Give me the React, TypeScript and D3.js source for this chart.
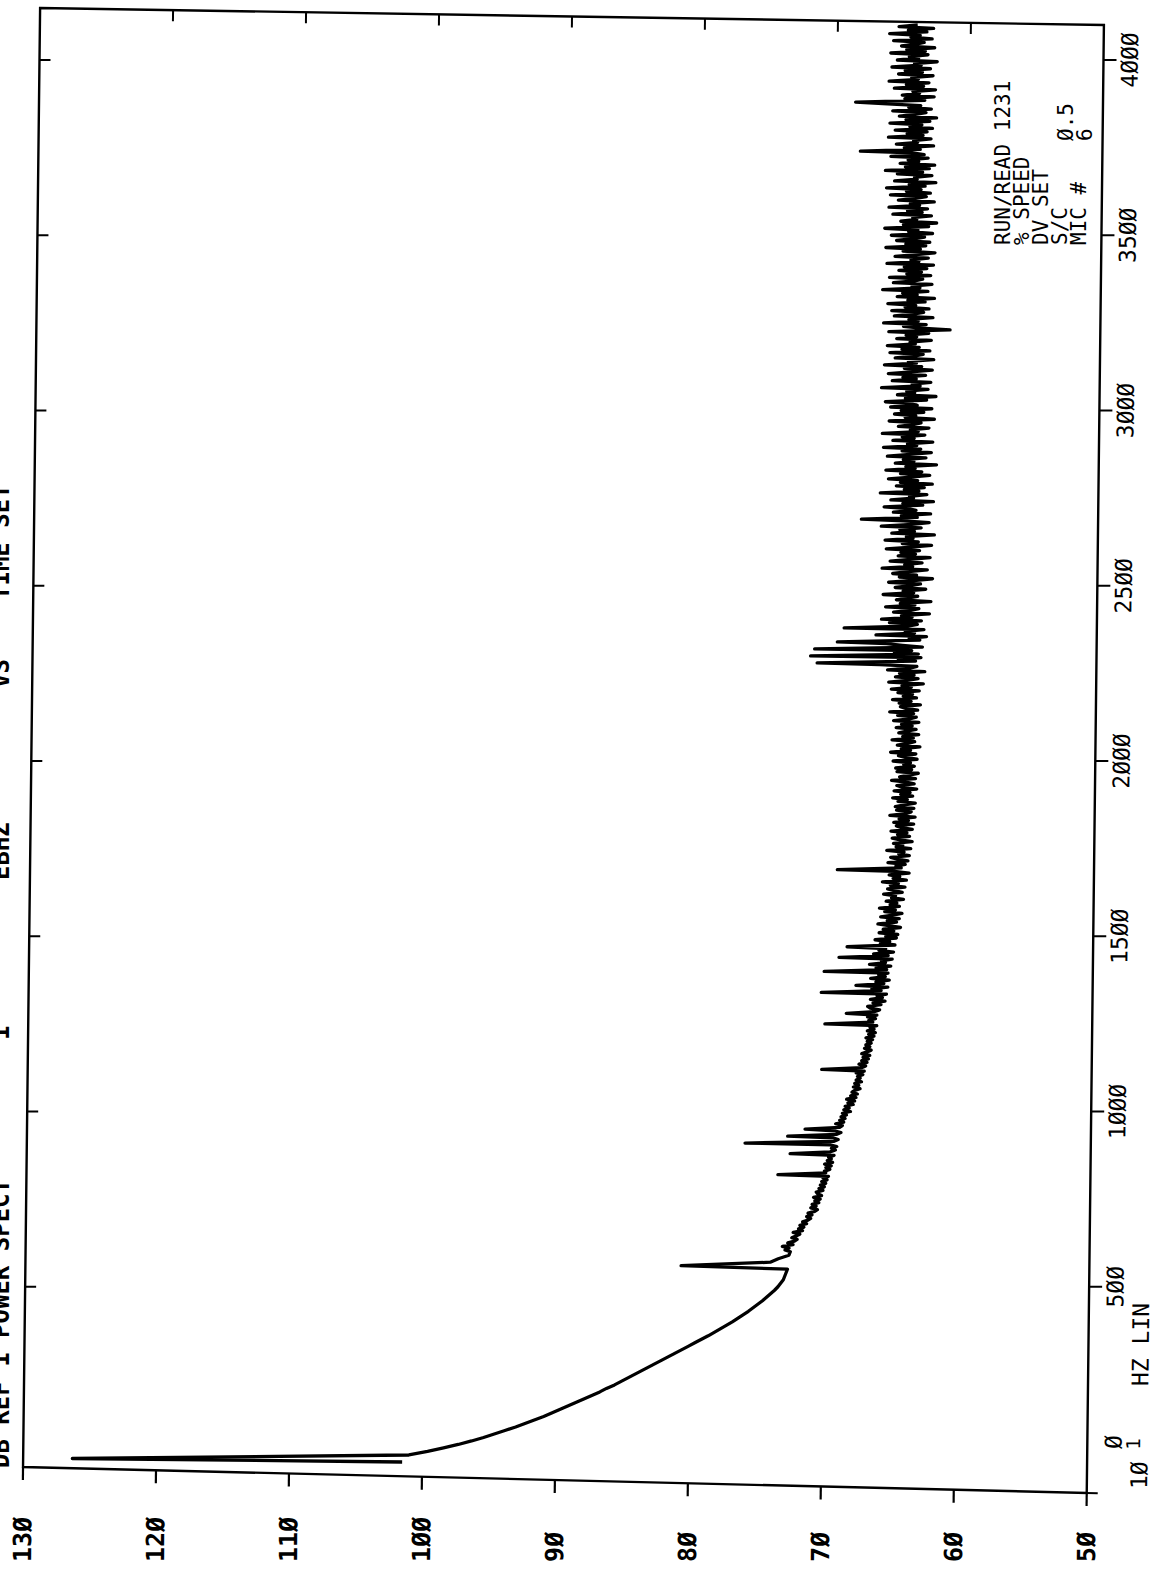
import React from "react";
import * as d3 from "d3";

// dB axis (horizontal in the rotated plot)
const dbTicks = [130, 120, 110, 100, 90, 80, 70, 60, 50];
const dbTickLabels = ["13Ø", "12Ø", "11Ø", "1ØØ", "9Ø", "8Ø", "7Ø", "6Ø", "5Ø"];
// Hz axis (vertical in the rotated plot)
const hzTicks = [0, 500, 1000, 1500, 2000, 2500, 3000, 3500, 4000];
const hzTickLabels = ["Ø", "5ØØ", "1ØØØ", "15ØØ", "2ØØØ", "25ØØ", "3ØØØ", "35ØØ", "4ØØØ"];

// low band: one value every 10 Hz from 0 to 590 Hz (dB)
const lowStart = 0;
const lowStep = 10;
const lowLevels = [
  101.5, 126.3, 101.0, 99.6, 98.4, 97.3, 96.3, 95.4, 94.6, 93.8,
  93.0, 92.3, 91.6, 90.9, 90.3, 89.7, 89.1, 88.5, 87.9, 87.3,
  86.7, 86.2, 85.6, 85.1, 84.6, 84.1, 83.6, 83.1, 82.6, 82.1,
  81.6, 81.1, 80.6, 80.1, 79.6, 79.1, 78.6, 78.15, 77.7, 77.25,
  76.8, 76.4, 76.0, 75.6, 75.25, 74.9, 74.55, 74.25, 73.95, 73.65,
  73.4, 73.2, 73.0, 72.9, 72.8, 72.7, 80.7, 74.0, 73.4, 72.6,
];
// high band: one value every 5 Hz from 600 to 4100 Hz (dB)
const highStart = 600;
const highStep = 5;
const highLevels = [
  72.5, 72.9, 72.6, 73.1, 72.3, 72.7, 72.2, 72.0, 72.4, 72.1, 71.8, 72.3, 71.6, 71.9, 71.5, 71.8, 71.3, 71.6, 71.2, 71.0,
  71.3, 70.9, 71.2, 70.7, 70.5, 71.0, 70.6, 70.9, 70.4, 70.7, 70.3, 70.8, 70.2, 70.5, 70.6, 70.1, 70.4, 70.0, 70.3, 69.9,
  70.2, 69.8, 70.1, 69.7, 73.5, 69.9, 70.0, 69.6, 69.9, 69.5, 70.0, 69.4, 69.8, 69.5, 69.7, 69.3, 72.6, 69.6, 69.2, 69.5,
  69.1, 69.6, 76.0, 69.3, 69.0, 69.4, 72.8, 69.1, 68.8, 69.3, 71.5, 68.9, 68.7, 69.2, 68.6, 68.9, 68.5, 68.8, 68.4, 68.7,
  68.1, 68.6, 68.2, 68.5, 67.9, 68.3, 67.8, 68.4, 67.7, 68.1, 67.6, 68.0, 67.8, 67.4, 67.9, 67.5, 67.8, 67.3, 67.7, 67.4,
  67.6, 67.2, 67.7, 67.1, 70.3, 67.3, 67.0, 67.5, 66.9, 67.3, 66.8, 67.2, 66.7, 67.3, 66.9, 66.6, 67.1, 66.7, 67.0, 66.6,
  66.9, 66.5, 67.0, 66.4, 66.8, 66.3, 66.9, 66.4, 66.7, 66.2, 70.1, 66.5, 66.8, 66.3, 66.9, 66.2, 68.5, 66.4, 66.0, 66.7,
  66.9, 65.9, 66.5, 65.6, 66.7, 65.8, 66.2, 65.5, 70.4, 65.9, 66.6, 65.4, 67.8, 65.7, 66.3, 65.3, 66.7, 65.6, 66.1, 65.4,
  70.2, 65.5, 66.3, 65.2, 66.8, 65.6, 65.9, 65.1, 69.1, 65.4, 66.5, 65.0, 66.1, 65.6, 68.5, 64.9, 66.0, 65.3, 66.4, 64.8,
  65.6, 64.7, 66.1, 65.0, 65.8, 64.5, 65.4, 66.2, 64.8, 65.5, 64.6, 66.0, 65.1, 64.4, 65.7, 64.9, 66.1, 64.6, 65.3, 64.8,
  65.6, 64.3, 65.2, 64.9, 65.8, 64.4, 65.0, 65.5, 64.2, 65.3, 64.7, 65.9, 64.1, 65.1, 64.6, 65.4, 63.9, 65.0, 69.3, 64.5,
  64.9, 64.2, 65.5, 64.0, 64.8, 65.3, 63.9, 64.7, 64.3, 65.6, 63.8, 64.9, 64.4, 65.1, 63.7, 64.6, 65.2, 63.9, 64.8, 64.1,
  65.3, 63.7, 64.5, 64.9, 63.6, 65.1, 64.0, 64.7, 63.5, 65.4, 64.2, 63.8, 64.9, 63.6, 65.0, 64.3, 63.5, 64.8, 64.1, 65.2,
  63.7, 64.6, 63.9, 65.1, 63.4, 64.5, 64.9, 63.6, 64.2, 65.3, 63.5, 64.7, 64.0, 63.3, 64.9, 63.8, 65.0, 63.6, 64.4, 63.9,
  65.2, 63.4, 64.3, 64.8, 63.5, 65.4, 63.9, 64.6, 63.2, 64.9, 64.1, 63.6, 65.3, 63.7, 64.5, 63.3, 64.8, 64.2, 63.5, 65.0,
  63.8, 64.6, 63.3, 65.2, 64.0, 63.5, 64.9, 63.7, 65.5, 63.4, 64.3, 64.7, 63.2, 64.8, 63.9, 65.3, 63.5, 64.5, 63.8, 64.9,
  63.3, 65.4, 63.9, 64.6, 63.0, 65.6, 64.2, 63.4, 65.1, 63.7, 64.8, 62.9, 65.7, 64.0, 63.5, 66.3, 71.0, 63.6, 64.9, 63.2,
  71.5, 63.4, 65.2, 63.9, 71.2, 63.1, 64.6, 65.8, 69.5, 63.3, 64.1, 62.8, 66.6, 63.7, 64.4, 63.0, 69.0, 64.2, 63.5, 65.6,
  63.2, 66.2, 63.9, 64.7, 62.6, 65.3, 64.0, 63.4, 65.9, 63.7, 64.8, 62.5, 65.1, 64.3, 63.5, 66.1, 63.8, 64.6, 62.9, 65.2,
  64.0, 63.3, 65.7, 63.8, 62.4, 64.9, 63.6, 65.4, 64.2, 62.8, 66.2, 63.9, 64.5, 63.2, 65.6, 64.1, 62.6, 65.0, 63.7, 64.8,
  63.4, 65.9, 64.0, 62.5, 64.7, 63.5, 66.0, 63.9, 64.4, 62.3, 65.5, 63.8, 64.9, 63.3, 66.3, 64.0, 62.7, 64.6, 67.8, 63.6,
  64.8, 62.6, 65.4, 63.7, 64.3, 66.1, 63.2, 64.7, 62.4, 65.6, 63.9, 64.2, 62.9, 66.4, 63.5, 64.6, 63.1, 65.2, 62.5, 64.9,
  63.6, 65.8, 64.1, 62.7, 64.9, 63.3, 66.0, 63.8, 64.5, 62.2, 65.3, 63.9, 64.7, 63.0, 65.9, 64.2, 62.6, 64.8, 63.4, 66.2,
  63.7, 64.4, 62.5, 65.5, 63.9, 64.8, 63.1, 66.3, 63.6, 64.2, 62.8, 65.1, 64.0, 63.4, 65.8, 62.4, 64.6, 63.8, 65.4, 63.2,
  64.9, 62.6, 65.7, 63.7, 64.3, 66.1, 63.0, 64.6, 62.3, 65.2, 63.9, 64.5, 62.9, 66.4, 63.5, 64.1, 62.7, 65.6, 63.8, 64.8,
  63.1, 65.9, 64.2, 62.6, 64.7, 63.4, 66.2, 63.8, 64.4, 62.5, 65.4, 64.0, 63.3, 65.8, 62.8, 64.9, 63.6, 66.0, 63.9, 64.3,
  62.7, 65.3, 63.8, 64.6, 62.9, 65.9, 61.3, 63.5, 64.8, 63.1, 66.3, 63.7, 64.4, 62.6, 65.5, 64.1, 63.3, 65.7, 62.9, 64.7,
  63.9, 66.0, 63.2, 64.5, 62.5, 65.3, 63.8, 64.9, 63.0, 66.4, 63.6, 64.2, 62.7, 65.6, 64.0, 63.4, 65.9, 62.8, 64.6, 63.5,
  65.2, 63.1, 64.8, 62.6, 66.1, 63.7, 64.3, 63.0, 65.5, 63.9, 62.5, 64.9, 63.6, 66.2, 63.2, 64.7, 62.9, 65.4, 64.1, 63.3,
  65.8, 62.7, 64.5, 63.8, 66.3, 63.0, 64.9, 62.4, 65.1, 63.9, 64.2, 62.8, 65.7, 63.5, 64.6, 63.1, 66.0, 63.7, 64.4, 62.6,
  65.3, 64.0, 63.2, 65.9, 62.9, 64.7, 63.6, 66.2, 63.3, 64.5, 62.5, 65.6, 63.9, 64.1, 62.8, 65.4, 63.5, 66.3, 63.0, 64.8,
  62.6, 65.2, 63.8, 64.6, 63.1, 65.9, 63.4, 64.3, 68.2, 63.7, 64.9, 62.7, 65.5, 63.9, 64.2, 62.9, 66.1, 63.5, 64.7, 63.2,
  65.6, 62.8, 64.5, 63.6, 66.0, 63.0, 64.8, 62.5, 65.3, 64.1, 63.3, 65.8, 62.9, 64.6, 63.7, 66.2, 68.6, 63.4, 64.9, 62.7,
  65.1, 63.8, 64.3, 62.6, 65.7, 63.5, 64.8, 63.1, 66.1, 63.9, 64.4, 62.8, 65.4, 63.6, 64.9, 63.0, 65.9, 63.7, 64.2, 62.5,
  65.5, 63.9, 64.6, 63.2, 66.0, 63.4, 64.8, 62.7, 65.2, 64.1, 63.5, 65.8, 62.9, 64.5, 63.8, 66.1, 63.3, 64.7, 62.8, 65.4,
  64.0,
];
const infoLabels = ["RUN/READ  1231", "% SPEED", "DV SET", "S/C", "MIC #"];
const infoValues = ["", "", "", "Ø.5", "6"];
const titleParts = ["DB REF 1  POWER SPECT", "1", "EBHZ", "VS", "TIME  SET"];
const titleStart = [1468, 1040, 880, 688, 600];

// frame geometry of the skewed scan, in the sheared frame (x across dB, y = page y)
const W = 1064;
const SHEAR = -0.0117;
const OX = 40.2;
const frameTop = [8, 25];
const frameBottom = [1467, 1493];

export default function App() {
  const m = `matrix(1,0,${SHEAR},1,${OX},0)`;
  const x = d3.scaleLinear().domain([130, 50]).range([0, W]);
  const y = d3.scaleLinear().domain([0, 4000]).range([1462, 60]);
  const pts = [
    ...lowLevels.map((v, i) => ({ hz: lowStart + i * lowStep, db: v })),
    ...highLevels.map((v, i) => ({ hz: highStart + i * highStep, db: v })),
  ];
  const line = d3
    .line<{ hz: number; db: number }>()
    .x((p) => x(p.db))
    .y((p) => y(p.hz));

  const botY = (lx: number) => frameBottom[0] + ((frameBottom[1] - frameBottom[0]) * lx) / W;
  const topY = (lx: number) => frameTop[0] + ((frameTop[1] - frameTop[0]) * lx) / W;
  const framePts = `0,${frameTop[0]} ${W},${frameTop[1]} ${W},${frameBottom[1]} 0,${frameBottom[0]}`;

  const mono = "'DejaVu Sans Mono', 'Liberation Mono', monospace";

  return (
    <svg
      width={1160}
      height={1572}
      style={{ position: "absolute", left: 0, top: 0, background: "#fff" }}
    >
      <rect x={0} y={0} width={1160} height={1572} fill="#fff" />
      <defs>
        <clipPath id="plotclip">
          <polygon points={framePts} />
        </clipPath>
      </defs>
      <g transform={m}>
        {/* frame */}
        <polygon points={framePts} fill="none" stroke="#000" strokeWidth={2.4} />
        <line x1={W} x2={W + 11} y1={frameBottom[1]} y2={botY(W + 11)} stroke="#000" strokeWidth={2.2} />
        {/* dB ticks bottom and top */}
        {dbTicks.map((t, i) => (
          <g key={"db" + i}>
            <line x1={x(t)} x2={x(t)} y1={botY(x(t))} y2={botY(x(t)) + 13} stroke="#000" strokeWidth={2.2} />
            {i > 0 && i < dbTicks.length - 1 && (
              <line x1={x(t)} x2={x(t)} y1={topY(x(t))} y2={topY(x(t)) + 11} stroke="#000" strokeWidth={2} />
            )}
            <text
              transform={`translate(${x(t)},1562) rotate(-90)`}
              dy="0.36em"
              textAnchor="start"
              fontFamily={mono}
              fontWeight="bold"
              fontSize={25}
            >
              {dbTickLabels[i]}
            </text>
          </g>
        ))}
        {/* Hz ticks right and left */}
        {hzTicks.map((t, i) => (
          <g key={"hz" + i}>
            {t > 0 && (
              <line x1={W} x2={W + 13} y1={y(t)} y2={y(t)} stroke="#000" strokeWidth={2} />
            )}
            {t > 0 && <line x1={0} x2={11} y1={y(t)} y2={y(t)} stroke="#000" strokeWidth={2} />}
            <text
              transform={`translate(${W + 26},${t === 0 ? y(t) - 20 : y(t)}) rotate(-90)`}
              dy="0.36em"
              textAnchor="middle"
              fontFamily={mono}
              fontSize={23}
            >
              {hzTickLabels[i]}
            </text>
          </g>
        ))}
        <text
          transform={`translate(${W + 52},1489) rotate(-90)`}
          dy="0.36em"
          textAnchor="start"
          fontFamily={mono}
          fontSize={23}
        >
          <tspan>1Ø</tspan>
          <tspan dy="-0.4em" fontSize={19}> 1</tspan>
        </text>
        <text
          transform={`translate(${W + 52},1386) rotate(-90)`}
          dy="0.36em"
          textAnchor="start"
          fontFamily={mono}
          fontSize={23}
        >
          HZ LIN
        </text>
        {/* spectrum */}
        <g clipPath="url(#plotclip)">
          <path d={line(pts) || ""} fill="none" stroke="#000" strokeWidth={3.3} strokeLinejoin="round" />
        </g>
      </g>
      {/* info block */}
      {infoLabels.map((s, i) => (
        <g key={"info" + i}>
          <text
            transform={`translate(${1002 + i * 19},245) rotate(-90)`}
            dy="0.36em"
            textAnchor="start"
            fontFamily={mono}
            fontSize={21}
          >
            {s}
          </text>
          {infoValues[i] && (
            <text
              transform={`translate(${1008 + i * 19},141) rotate(-90)`}
              dy="0.36em"
              textAnchor="start"
              fontFamily={mono}
              fontSize={21}
            >
              {infoValues[i]}
            </text>
          )}
        </g>
      ))}
      {/* title, cut off at the left edge */}
      {titleParts.map((s, i) => (
        <text
          key={"t" + i}
          transform={`translate(9,${titleStart[i]}) rotate(-90)`}
          textAnchor="start"
          fontFamily={mono}
          fontWeight="bold"
          fontSize={24}
        >
          {s}
        </text>
      ))}
    </svg>
  );
}
